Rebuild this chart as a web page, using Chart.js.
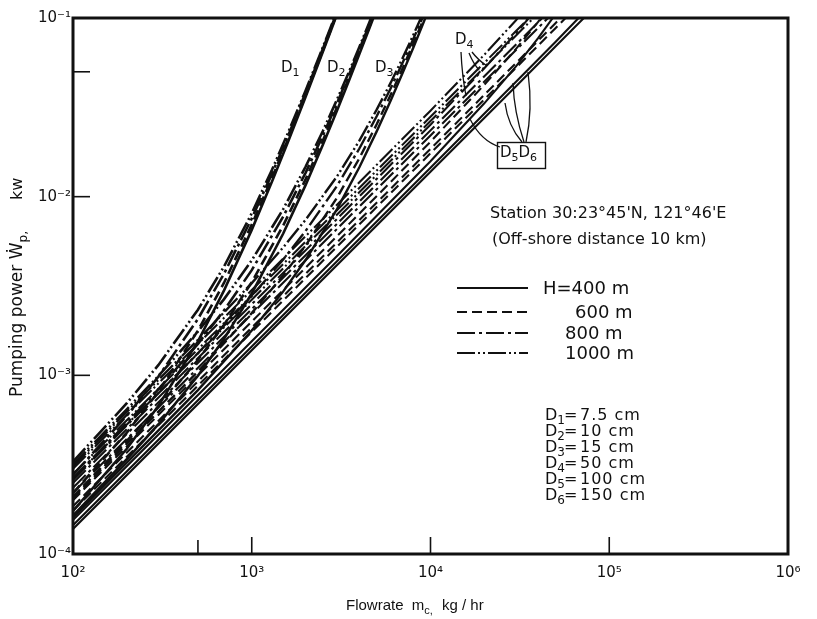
<!DOCTYPE html>
<html>
<head>
<meta charset="utf-8">
<title>Pumping power vs flowrate</title>
<script src="https://cdn.jsdelivr.net/npm/chart.js@4.4.0/dist/chart.umd.min.js"></script>
<style>
  html, body { margin: 0; padding: 0; background: #fff; }
  canvas { display: block; }
</style>
</head>
<body>
<canvas id="powerChart" width="817" height="619"></canvas>
<script>
// Pipe depths, one line style each
const heads = [400, 600, 800, 1000];
const headDash = [[], [10, 5], [18, 4, 3, 4], [18, 3, 2, 3, 2, 3]];

// Pipe diameters (cm)
const diameterNames = ['1', '2', '3', '4', '5', '6'];
const diameterCm = ['7.5', '10', '15', '50', '100', '150'];

// Flowrate (kg/hr) sample points and pumping power (kW), one row per depth
const flowD1 = [100, 200, 300, 500, 700, 1000, 1300, 1600, 2000, 2400, 2800, 3200];
const powerD1 = [
  [1.74e-4, 3.88e-4, 6.73e-4, 1.55e-3, 2.99e-3, 6.52e-3, 0.0122, 0.0204, 0.0361, 0.0582, 0.0873, 0.125],
  [2.19e-4, 4.78e-4, 8.08e-4, 1.78e-3, 3.30e-3, 6.97e-3, 0.0128, 0.0211, 0.0370, 0.0592, 0.0886, 0.126],
  [2.77e-4, 5.94e-4, 9.82e-4, 2.07e-3, 3.71e-3, 7.55e-3, 0.0135, 0.0220, 0.0382, 0.0606, 0.0902, 0.128],
  [3.29e-4, 6.98e-4, 1.14e-3, 2.33e-3, 4.07e-3, 8.07e-3, 0.0142, 0.0229, 0.0392, 0.0619, 0.0917, 0.130]
];

const flowD2 = [100, 200, 300, 500, 700, 1000, 1500, 2000, 2500, 3000, 3500, 4000, 4500, 5000];
const powerD2 = [
  [1.64e-4, 3.39e-4, 5.31e-4, 9.95e-4, 1.60e-3, 2.87e-3, 6.22e-3, 0.0116, 0.0195, 0.0304, 0.0447, 0.0628, 0.0851, 0.112],
  [2.09e-4, 4.29e-4, 6.66e-4, 1.22e-3, 1.92e-3, 3.32e-3, 6.90e-3, 0.0125, 0.0206, 0.0317, 0.0462, 0.0646, 0.0871, 0.114],
  [2.65e-4, 5.41e-4, 8.34e-4, 1.50e-3, 2.31e-3, 3.88e-3, 7.74e-3, 0.0136, 0.0220, 0.0334, 0.0482, 0.0668, 0.0896, 0.117],
  [3.17e-4, 6.45e-4, 9.90e-4, 1.76e-3, 2.67e-3, 4.40e-3, 8.52e-3, 0.0147, 0.0233, 0.0350, 0.0500, 0.0689, 0.0920, 0.120]
];

const flowD3 = [100, 500, 1000, 1500, 2000, 3000, 4000, 5000, 6000, 7000, 8000, 9000, 10000];
const powerD3 = [
  [1.60e-4, 8.27e-4, 1.78e-3, 2.95e-3, 4.42e-3, 8.52e-3, 0.0146, 0.0232, 0.0346, 0.0495, 0.0680, 0.0907, 0.118],
  [2.05e-4, 1.05e-3, 2.23e-3, 3.63e-3, 5.32e-3, 9.87e-3, 0.0164, 0.0254, 0.0373, 0.0526, 0.0716, 0.0948, 0.123],
  [2.60e-4, 1.33e-3, 2.78e-3, 4.45e-3, 6.42e-3, 0.0115, 0.0186, 0.0282, 0.0406, 0.0565, 0.0760, 0.0997, 0.128],
  [3.10e-4, 1.58e-3, 3.28e-3, 5.20e-3, 7.42e-3, 0.0130, 0.0206, 0.0307, 0.0436, 0.0600, 0.0800, 0.104, 0.133]
];

const flowD4 = [100, 1000, 3000, 10000, 20000, 30000, 40000, 50000];
const powerD4 = [
  [1.55e-4, 1.55e-3, 4.66e-3, 0.0158, 0.0333, 0.0534, 0.0771, 0.105],
  [2.00e-4, 2.00e-3, 6.01e-3, 0.0203, 0.0423, 0.0669, 0.0951, 0.128],
  [2.50e-4, 2.50e-3, 7.51e-3, 0.0253, 0.0523, 0.0819, 0.115],
  [3.00e-4, 3.00e-3, 9.01e-3, 0.0303, 0.0623, 0.0969, 0.135]
];

const flowD5 = [100, 1000, 10000, 30000, 50000, 70000];
const powerD5 = [
  [1.45e-4, 1.45e-3, 0.0145, 0.0438, 0.0735, 0.104],
  [1.85e-4, 1.85e-3, 0.0185, 0.0558, 0.0935, 0.132],
  [2.35e-4, 2.35e-3, 0.0235, 0.0708, 0.1185],
  [2.80e-4, 2.80e-3, 0.0280, 0.0843, 0.141]
];

const flowD6 = [100, 1000, 10000, 30000, 50000, 80000];
const powerD6 = [
  [1.38e-4, 1.38e-3, 0.0138, 0.0414, 0.0692, 0.111],
  [1.75e-4, 1.75e-3, 0.0175, 0.0525, 0.0877, 0.141],
  [2.20e-4, 2.20e-3, 0.0220, 0.0660, 0.110],
  [2.65e-4, 2.65e-3, 0.0265, 0.0795, 0.133]
];

const xTickValues = [100, 500, 1000, 10000, 100000, 1000000];
const yTickValues = [1e-4, 1e-3, 1e-2, 0.05, 0.1];

const FONT = '"DejaVu Sans", sans-serif';
const NARROW = '"Liberation Sans", Arial, sans-serif';
const INK = '#111';

const supDigits = { '-': '⁻', '0': '⁰', '1': '¹', '2': '²', '3': '³', '4': '⁴', '5': '⁵', '6': '⁶' };
function powerLabel(v) {
  const e = Math.log10(v);
  if (Math.abs(e - Math.round(e)) > 1e-6) return '';
  return '10' + String(Math.round(e)).split('').map(c => supDigits[c]).join('');
}

const groups = [
  { flow: flowD1, power: powerD1, width: 2.6 },
  { flow: flowD2, power: powerD2, width: 2.6 },
  { flow: flowD3, power: powerD3, width: 2.4 },
  { flow: flowD4, power: powerD4, width: 2.1 },
  { flow: flowD5, power: powerD5, width: 2.1 },
  { flow: flowD6, power: powerD6, width: 2.1 }
];

const datasets = [];
groups.forEach((g, d) => {
  g.power.forEach((row, i) => {
    datasets.push({
      label: 'D' + diameterNames[d] + ' H=' + heads[i],
      data: row.map((w, k) => ({ x: g.flow[k], y: w })),
      borderColor: INK,
      borderWidth: g.width,
      borderDash: headDash[i],
      pointRadius: 0,
      tension: 0,
      fill: false,
      clip: 0
    });
  });
});

// text with sub/superscript pieces: parts = [[text, 'sub'|'sup'|''], ...]
function drawRich(ctx, parts, x, y, size, family) {
  const fam = family || FONT;
  let cx = x;
  parts.forEach(([t, kind]) => {
    const s = kind ? Math.round(size * 0.72) : size;
    ctx.font = s + 'px ' + fam;
    const dy = kind === 'sub' ? size * 0.32 : (kind === 'sup' ? -size * 0.38 : 0);
    ctx.fillText(t, cx, y + dy);
    cx += ctx.measureText(t).width;
  });
  return cx - x;
}

const annotations = {
  id: 'annotations',
  afterDraw(chart) {
    const { ctx, chartArea: a, scales } = chart;
    const xs = scales.x, ys = scales.y;
    ctx.save();
    ctx.strokeStyle = INK;
    ctx.fillStyle = INK;
    ctx.setLineDash([]);

    // frame
    ctx.lineWidth = 3;
    ctx.strokeRect(a.left, a.top, a.right - a.left, a.bottom - a.top);

    // inward tick marks
    ctx.lineWidth = 1.6;
    [500, 1000, 10000, 100000].forEach(v => {
      const px = xs.getPixelForValue(v);
      const len = v === 500 ? 14 : 17;
      ctx.beginPath(); ctx.moveTo(px, a.bottom); ctx.lineTo(px, a.bottom - len); ctx.stroke();
    });
    [1e-3, 1e-2, 0.05].forEach(v => {
      const py = ys.getPixelForValue(v);
      ctx.beginPath(); ctx.moveTo(a.left, py); ctx.lineTo(a.left + 17, py); ctx.stroke();
    });

    ctx.textBaseline = 'middle';
    ctx.textAlign = 'left';

    // axis titles
    drawRich(ctx, [['Flowrate  m', ''], ['c,', 'sub']], 346, 606, 15, NARROW);
    drawRich(ctx, [['kg / hr', '']], 442, 606, 15, NARROW);
    ctx.save();
    ctx.translate(18, 397);
    ctx.rotate(-Math.PI / 2);
    drawRich(ctx, [['Pumping power Ẇ', ''], ['p,', 'sub']], 0, 0, 17);
    drawRich(ctx, [['kw', '']], 197, 0, 16);
    ctx.restore();

    // diameter labels on the curve bundles
    drawRich(ctx, [['D', ''], ['1', 'sub']], 281, 68, 15);
    drawRich(ctx, [['D', ''], ['2', 'sub']], 327, 68, 15);
    drawRich(ctx, [['D', ''], ['3', 'sub']], 375, 68, 15);
    drawRich(ctx, [['D', ''], ['4', 'sub']], 455, 40, 15);

    // D5 D6 box
    ctx.lineWidth = 1.4;
    ctx.strokeRect(497.5, 142.5, 48, 26);
    drawRich(ctx, [['D', ''], ['5', 'sub'], ['D', ''], ['6', 'sub']], 500, 153, 15);

    // leader lines
    ctx.lineWidth = 1.3;
    const leaders = [
      [[461, 52], [462, 75], [466, 96]],
      [[469, 53], [473, 63], [479, 70]],
      [[472, 52], [478, 60], [487, 66]],
      [[500, 147], [481, 141], [470, 119]],
      [[522, 142], [508, 126], [505, 103]],
      [[524, 142], [514, 112], [513, 83]],
      [[526, 142], [533, 110], [528, 72]]
    ];
    leaders.forEach(([p0, c, p1]) => {
      ctx.beginPath(); ctx.moveTo(p0[0], p0[1]); ctx.quadraticCurveTo(c[0], c[1], p1[0], p1[1]); ctx.stroke();
    });

    // station note
    ctx.font = '16px ' + FONT;
    ctx.fillText("Station 30:23°45'N, 121°46'E", 490, 214);
    ctx.fillText('(Off-shore distance 10 km)', 492, 240);

    // line-style key for depths
    const keyY = [288, 312, 333, 353];
    const keyText = [['H=400 m', 543], ['600 m', 575], ['800 m', 565], ['1000 m', 565]];
    keyY.forEach((yy, i) => {
      ctx.lineWidth = 2.2;
      ctx.setLineDash(headDash[i]);
      ctx.beginPath(); ctx.moveTo(457, yy); ctx.lineTo(528, yy); ctx.stroke();
      ctx.setLineDash([]);
      ctx.font = '18px ' + FONT;
      ctx.fillText(keyText[i][0], keyText[i][1], yy + 1);
    });

    // diameter list
    const listY = [416, 432, 448, 464, 480, 496];
    listY.forEach((yy, i) => {
      drawRich(ctx, [['D', ''], [diameterNames[i], 'sub']], 545, yy, 16);
      ctx.font = '16px ' + FONT;
      ctx.fillText('=', 564, yy);
      ctx.letterSpacing = '1px';
      ctx.fillText(diameterCm[i] + ' cm', 580, yy);
      ctx.letterSpacing = '0px';
    });

    ctx.restore();
  }
};

new Chart(document.getElementById('powerChart').getContext('2d'), {
  type: 'line',
  data: { datasets },
  options: {
    responsive: false,
    animation: false,
    events: [],
    layout: { padding: { top: 18, right: 29, left: 0, bottom: 0 } },
    plugins: { legend: { display: false }, tooltip: { enabled: false } },
    scales: {
      x: {
        type: 'logarithmic',
        min: 100,
        max: 1000000,
        afterBuildTicks: s => { s.ticks = xTickValues.map(v => ({ value: v })); },
        afterFit: s => { s.height = 65; },
        grid: { display: false, drawTicks: false },
        border: { display: false },
        ticks: {
          autoSkip: false,
          maxRotation: 0,
          padding: 10,
          color: INK,
          font: { family: FONT, size: 15 },
          callback: v => powerLabel(v)
        }
      },
      y: {
        type: 'logarithmic',
        min: 1e-4,
        max: 0.1,
        afterBuildTicks: s => { s.ticks = yTickValues.map(v => ({ value: v })); },
        afterFit: s => { s.width = 73; },
        grid: { display: false, drawTicks: false },
        border: { display: false },
        ticks: {
          autoSkip: false,
          padding: 2,
          color: INK,
          font: { family: FONT, size: 15 },
          callback: v => powerLabel(v)
        }
      }
    }
  },
  plugins: [annotations]
});
</script>
</body>
</html>
